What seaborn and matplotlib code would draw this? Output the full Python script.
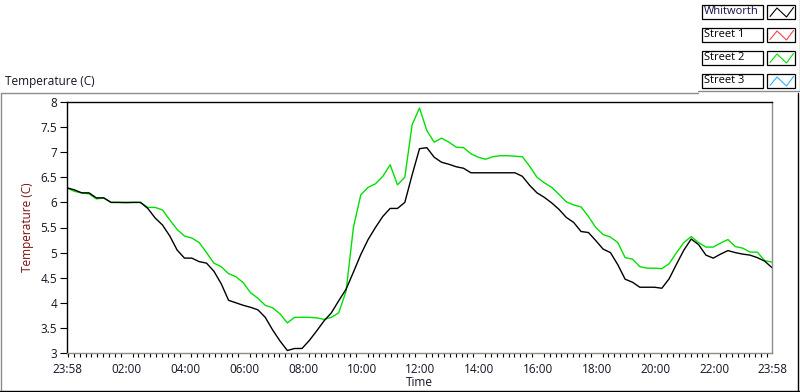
import matplotlib
matplotlib.use("Agg")
import matplotlib.pyplot as plt
from matplotlib.lines import Line2D
from matplotlib.patches import Rectangle
import numpy as np
import pandas as pd
import seaborn as sns

# ---- data (hours since 23:58 start, 15-minute grid) ----
hours = [i * 0.25 for i in range(97)]
whitworth = [
    6.29, 6.25, 6.19, 6.19, 6.09, 6.09, 6.00, 6.00, 6.00, 6.00, 6.00, 5.88,
    5.69, 5.55, 5.33, 5.05, 4.89, 4.89, 4.82, 4.79, 4.63, 4.38, 4.05, 4.00,
    3.95, 3.91, 3.86, 3.71, 3.46, 3.24, 3.05, 3.09, 3.09, 3.25, 3.44, 3.64,
    3.80, 4.04, 4.27, 4.61, 4.96, 5.26, 5.50, 5.72, 5.88, 5.88, 6.00, 6.55,
    7.07, 7.09, 6.90, 6.80, 6.76, 6.71, 6.68, 6.59, 6.59, 6.59, 6.59, 6.59,
    6.59, 6.59, 6.52, 6.34, 6.19, 6.10, 5.99, 5.86, 5.70, 5.60, 5.42, 5.40,
    5.24, 5.07, 5.00, 4.76, 4.47, 4.41, 4.31, 4.31, 4.31, 4.29, 4.48, 4.77,
    5.05, 5.27, 5.16, 4.95, 4.89, 4.97, 5.04, 5.00, 4.97, 4.95, 4.90, 4.83,
    4.70,
]
street2 = [
    6.29, 6.22, 6.19, 6.17, 6.07, 6.09, 6.00, 6.00, 5.99, 6.00, 6.00, 5.90,
    5.90, 5.85, 5.65, 5.46, 5.33, 5.29, 5.20, 5.00, 4.79, 4.72, 4.58, 4.52,
    4.40, 4.20, 4.09, 3.95, 3.90, 3.78, 3.60, 3.71, 3.71, 3.71, 3.70, 3.67,
    3.71, 3.80, 4.23, 5.50, 6.15, 6.30, 6.37, 6.52, 6.75, 6.35, 6.50, 7.55,
    7.88, 7.43, 7.20, 7.28, 7.20, 7.10, 7.09, 6.97, 6.90, 6.86, 6.91, 6.93,
    6.93, 6.92, 6.91, 6.72, 6.50, 6.39, 6.30, 6.16, 6.01, 5.95, 5.91, 5.72,
    5.50, 5.36, 5.31, 5.20, 4.90, 4.87, 4.72, 4.69, 4.69, 4.68, 4.78, 5.00,
    5.20, 5.32, 5.20, 5.11, 5.11, 5.19, 5.26, 5.12, 5.09, 5.01, 5.01, 4.84,
    4.81,
]
x_tick_pos = [0, 2 + 2/60, 4 + 2/60, 6 + 2/60, 8 + 2/60, 10 + 2/60, 12 + 2/60,
              14 + 2/60, 16 + 2/60, 18 + 2/60, 20 + 2/60, 22 + 2/60, 24]
x_tick_labels = ["23:58", "02:00", "04:00", "06:00", "08:00", "10:00", "12:00",
                 "14:00", "16:00", "18:00", "20:00", "22:00", "23:58"]
y_ticks = [3, 3.5, 4, 4.5, 5, 5.5, 6, 6.5, 7, 7.5, 8]
legend_names = ["Whitworth", "Street 1", "Street 2", "Street 3"]
legend_colors = ["#000000", "#ff4040", "#00e000", "#30b0ff"]

df = pd.DataFrame({
    "hours": hours * 2,
    "temp": whitworth + street2,
    "series": ["Whitworth"] * len(hours) + ["Street 2"] * len(hours),
})

sns.set_theme(style="white")
plt.rcParams["font.family"] = ["Open Sans", "DejaVu Sans"]
TXT = "#141428"
FS = 8.5

W, H = 800, 392
fig = plt.figure(figsize=(W / 100, H / 100), dpi=100)
fig.patch.set_facecolor("white")

def fx(px):
    return px / W

def fy(py):
    return 1 - py / H

ax = fig.add_axes([fx(67), fy(353), fx(772) - fx(67), fy(102) - fy(353)])
ax.set_facecolor("white")

sns.lineplot(data=df, x="hours", y="temp", hue="series",
             palette={"Whitworth": "#000000", "Street 2": "#00e000"},
             hue_order=["Street 2", "Whitworth"],
             linewidth=1.0, legend=False, ax=ax, estimator=None, sort=False)

ax.set_xlim(0, 24)
ax.set_ylim(3, 8)
ax.set_xticks(x_tick_pos)
ax.set_xticklabels(x_tick_labels)
minor = [2/60 + 0.2 * k for k in range(120)]
ax.set_xticks([m for m in minor if 0 < m < 24], minor=True)
ax.set_yticks(y_ticks)
ax.set_yticklabels([("%g" % v) for v in y_ticks])

ax.tick_params(axis="x", which="major", direction="out", length=5, width=1.2,
               color="black", labelsize=FS, labelcolor=TXT, pad=2)
ax.tick_params(axis="x", which="minor", direction="out", length=3, width=0.8,
               color="black", bottom=True)
ax.tick_params(axis="y", which="major", direction="out", length=5, width=0.8,
               color="black", labelsize=FS, labelcolor=TXT, pad=2, left=True)

for side in ["top", "left"]:
    ax.spines[side].set_color("black")
    ax.spines[side].set_linewidth(1.0)
for side in ["bottom", "right"]:
    ax.spines[side].set_color("#8c8c8c")
    ax.spines[side].set_linewidth(1.0)

ax.set_xlabel("Time", fontsize=FS, color=TXT, labelpad=0)
ax.set_ylabel("Temperature (C)", fontsize=FS, color="#7a1010", labelpad=5)

# ---- outer frame (LabVIEW style) ----
def pline(x0, y0, x1, y1, color, lw=1.0):
    fig.add_artist(Line2D([fx(x0), fx(x1)], [fy(y0), fy(y1)], color=color,
                          lw=lw, transform=fig.transFigure))

pline(0.5, 93, 698, 93, "#8c8c8c")
pline(0.5, 93, 0.5, 390, "#8c8c8c")
pline(0, 390.5, 800, 390.5, "black")
pline(797.5, 93, 797.5, 390.5, "black")
pline(698, 90.5, 799.5, 90.5, "#8c8c8c")
pline(799.5, 0, 799.5, 90.5, "#8c8c8c")

fig.text(fx(5), fy(81), "Temperature (C)", fontsize=FS, color=TXT,
         ha="left", va="center")

# ---- legend (plot-legend boxes) ----
for i, (name, col) in enumerate(zip(legend_names, legend_colors)):
    top = 5 + i * 23
    h = 13.5
    fig.add_artist(Rectangle((fx(702), fy(top + h)), fx(763) - fx(702),
                             fy(top) - fy(top + h), facecolor="white",
                             edgecolor="black", lw=0.9,
                             transform=fig.transFigure))
    fig.text(fx(704), fy(top + h / 2), name, fontsize=8,
             color="#10104a" if i == 0 else "black", ha="left", va="center")
    fig.add_artist(Rectangle((fx(767), fy(top + h)), fx(795) - fx(767),
                             fy(top) - fy(top + h), facecolor="white",
                             edgecolor="black", lw=0.9,
                             transform=fig.transFigure))
    zx = [770, 777, 786.5, 793.5]
    zy = [top + 11.5, top + 3, top + 12, top + 2.5]
    fig.add_artist(Line2D([fx(v) for v in zx], [fy(v) for v in zy],
                          color=col, lw=0.8, transform=fig.transFigure))

fig.savefig("out.png", dpi=100, facecolor="white")
